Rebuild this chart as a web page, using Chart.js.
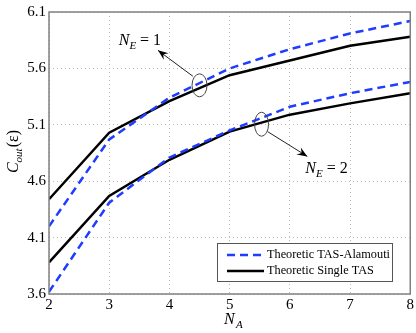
<!DOCTYPE html>
<html>
<head>
<meta charset="utf-8">
<script src="https://cdn.jsdelivr.net/npm/chart.js@4/dist/chart.umd.min.js"></script>
<style>
  html, body { margin: 0; padding: 0; background: #fff; }
  #wrap { width: 416px; height: 333px; }
</style>
</head>
<body>
<div id="wrap"><canvas id="coutChart" width="416" height="333"></canvas></div>
<script>
// 안테나 수 (N_A)
var antennas = [2, 3, 4, 5, 6, 7, 8];
// NE = 1
var alamoutiNE1 = [4.20, 4.97, 5.34, 5.60, 5.77, 5.91, 6.02];
var singleNE1   = [4.44, 5.03, 5.31, 5.54, 5.67, 5.80, 5.88];
// NE = 2
var alamoutiNE2 = [3.62, 4.41, 4.81, 5.05, 5.26, 5.38, 5.48];
var singleNE2   = [3.88, 4.47, 4.79, 5.04, 5.19, 5.29, 5.38];
var yTicks = [3.6, 4.1, 4.6, 5.1, 5.6, 6.1];
var legendLabels = ['Theoretic TAS-Alamouti', 'Theoretic Single TAS'];

var blue = '#1f3cff';
var serif = '"Liberation Serif", "DejaVu Serif", serif';

function toPoints(ys) {
    return antennas.map(function(x, i) { return { x: x, y: ys[i] }; });
}

// 주석 (타원 + 화살표 + 라벨) - 데이터 좌표
var notes = [
    { label: '1', ex: 4.50, ey: 5.45, rx: 7.5, ry: 11.5, ax0: 4.39, ay0: 5.53, ax1: 3.81, ay1: 5.76, tx: 3.51, ty: 5.85 },
    { label: '2', ex: 5.53, ey: 5.105, rx: 7, ry: 12, ax0: 5.63, ay0: 5.04, ax1: 6.29, ay1: 4.82, tx: 6.61, ty: 4.72 }
];

function drawNE(ctx, cx, cy, num) {
    ctx.save();
    ctx.fillStyle = '#000';
    ctx.textBaseline = 'alphabetic';
    ctx.textAlign = 'left';
    var f1 = 'italic 16px ' + serif, f2 = 'italic 11px ' + serif, f3 = '16px ' + serif;
    ctx.font = f1; var w1 = ctx.measureText('N').width;
    ctx.font = f2; var w2 = ctx.measureText('E').width;
    ctx.font = f3; var w3 = ctx.measureText(' = ' + num).width;
    var x = cx - (w1 + w2 + w3) / 2, base = cy + 5;
    ctx.font = f1; ctx.fillText('N', x, base);
    ctx.font = f2; ctx.fillText('E', x + w1, base + 4);
    ctx.font = f3; ctx.fillText(' = ' + num, x + w1 + w2, base);
    ctx.restore();
}

var extras = {
    id: 'extras',
    afterDraw: function(chart) {
        var ctx = chart.ctx, a = chart.chartArea;
        var xs = chart.scales.x, ys = chart.scales.y;
        // 프레임
        ctx.save();
        ctx.strokeStyle = '#808080';
        ctx.lineWidth = 1.5;
        ctx.strokeRect(a.left, a.top, a.right - a.left, a.bottom - a.top);
        ctx.restore();

        // 주석
        notes.forEach(function(n) {
            ctx.save();
            ctx.strokeStyle = '#444';
            ctx.lineWidth = 1;
            ctx.beginPath();
            ctx.ellipse(xs.getPixelForValue(n.ex), ys.getPixelForValue(n.ey), n.rx, n.ry, 0, 0, Math.PI * 2);
            ctx.stroke();
            var x0 = xs.getPixelForValue(n.ax0), y0 = ys.getPixelForValue(n.ay0);
            var x1 = xs.getPixelForValue(n.ax1), y1 = ys.getPixelForValue(n.ay1);
            ctx.strokeStyle = '#222';
            ctx.beginPath(); ctx.moveTo(x0, y0); ctx.lineTo(x1, y1); ctx.stroke();
            var ang = Math.atan2(y1 - y0, x1 - x0), L = 11, W = 0.38;
            ctx.fillStyle = '#000';
            ctx.beginPath();
            ctx.moveTo(x1, y1);
            ctx.lineTo(x1 - L * Math.cos(ang - W), y1 - L * Math.sin(ang - W));
            ctx.lineTo(x1 - L * 0.6 * Math.cos(ang), y1 - L * 0.6 * Math.sin(ang));
            ctx.lineTo(x1 - L * Math.cos(ang + W), y1 - L * Math.sin(ang + W));
            ctx.closePath(); ctx.fill();
            ctx.restore();
            drawNE(ctx, xs.getPixelForValue(n.tx), ys.getPixelForValue(n.ty), n.label);
        });

        // 범례
        ctx.save();
        var bx = 217, by = 243, bw = 175, bh = 38;
        ctx.fillStyle = '#fff';
        ctx.fillRect(bx, by, bw, bh);
        ctx.strokeStyle = '#555';
        ctx.lineWidth = 1;
        ctx.strokeRect(bx + 0.5, by + 0.5, bw, bh);
        ctx.lineWidth = 2.5;
        ctx.strokeStyle = blue;
        ctx.setLineDash([8, 5]);
        ctx.beginPath(); ctx.moveTo(227, 255); ctx.lineTo(264, 255); ctx.stroke();
        ctx.setLineDash([]);
        ctx.strokeStyle = '#000';
        ctx.beginPath(); ctx.moveTo(227, 271); ctx.lineTo(264, 271); ctx.stroke();
        ctx.fillStyle = '#000';
        ctx.font = '12.3px ' + serif;
        ctx.textBaseline = 'middle';
        ctx.fillText(legendLabels[0], 267, 255);
        ctx.fillText(legendLabels[1], 267, 271);
        ctx.restore();

        // x축 제목 N_A
        ctx.save();
        ctx.fillStyle = '#000';
        ctx.font = 'italic 16px ' + serif;
        ctx.fillText('N', 224, 324);
        ctx.font = 'italic 11px ' + serif;
        ctx.fillText('A', 236, 328);
        ctx.restore();

        // y축 제목 C_out(ε)
        ctx.save();
        ctx.translate(18, 152);
        ctx.rotate(-Math.PI / 2);
        ctx.fillStyle = '#000';
        ctx.textBaseline = 'alphabetic';
        ctx.font = 'italic 16px ' + serif;
        var wc = ctx.measureText('C').width;
        ctx.font = 'italic 11px ' + serif;
        var wo = ctx.measureText('out').width;
        ctx.font = '16px ' + serif;
        var we = ctx.measureText('(ε)').width;
        var sx = -(wc + wo + we) / 2;
        ctx.font = 'italic 16px ' + serif; ctx.fillText('C', sx, 0);
        ctx.font = 'italic 11px ' + serif; ctx.fillText('out', sx + wc, 4);
        ctx.font = '16px ' + serif; ctx.fillText('(ε)', sx + wc + wo + 1, 0);
        ctx.restore();
    }
};

function line(ys, color, dash) {
    return {
        data: toPoints(ys),
        borderColor: color,
        borderWidth: 2.5,
        borderDash: dash,
        pointRadius: 0,
        fill: false,
        tension: 0
    };
}

var coutChart = new Chart(document.getElementById('coutChart').getContext('2d'), {
    type: 'line',
    data: {
        datasets: [
            line(alamoutiNE1, blue, [8, 5]),
            line(singleNE1, '#000', []),
            line(alamoutiNE2, blue, [8, 5]),
            line(singleNE2, '#000', [])
        ]
    },
    options: {
        responsive: false,
        animation: false,
        layout: { padding: { left: 0, top: 8, right: 5, bottom: 0 } },
        plugins: { legend: { display: false }, tooltip: { enabled: false } },
        scales: {
            x: {
                type: 'linear',
                min: 2, max: 8,
                afterFit: function(s) { s.height = 39; },
                ticks: { stepSize: 1, color: '#000', padding: 2, font: { family: serif, size: 15 } },
                grid: { color: '#b8b8b8', drawTicks: false, lineWidth: 1 },
                border: { display: false, dash: [1, 3] }
            },
            y: {
                type: 'linear',
                min: 3.6, max: 6.1,
                afterFit: function(s) { s.width = 49; },
                afterBuildTicks: function(s) { s.ticks = yTicks.map(function(v) { return { value: v }; }); },
                ticks: {
                    color: '#000', padding: 3, font: { family: serif, size: 15 },
                    callback: function(v) { return v.toFixed(1); }
                },
                grid: { color: '#b8b8b8', drawTicks: false, lineWidth: 1 },
                border: { display: false, dash: [1, 3] }
            }
        }
    },
    plugins: [extras]
});
</script>
</body>
</html>
